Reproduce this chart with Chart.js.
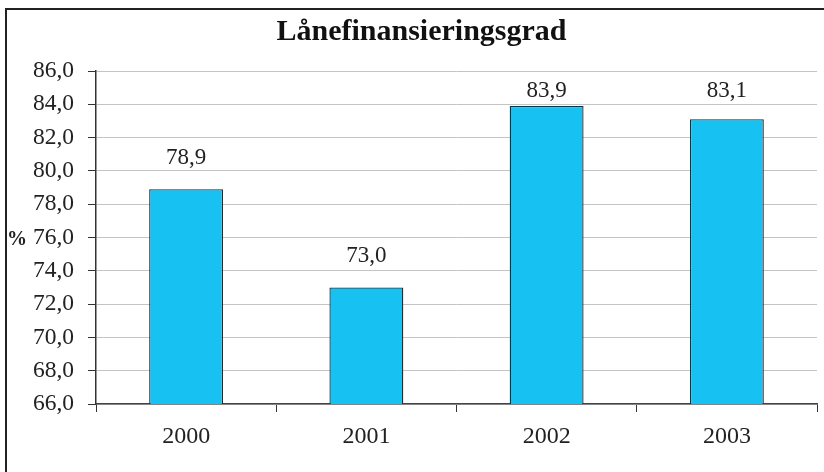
<!DOCTYPE html>
<html>
<head>
<meta charset="utf-8">
<script src="https://cdn.jsdelivr.net/npm/chart.js@4/dist/chart.umd.min.js"></script>
<style>
  html, body { margin: 0; padding: 0; background: #fff; overflow: hidden; }
  #wrap { position: relative; width: 824px; height: 472px; }
  #frame { position: absolute; left: 5px; top: 8px; width: 900px; height: 600px;
           border-left: 2px solid #222; border-top: 2px solid #222; pointer-events: none; }
</style>
</head>
<body>
<div id="wrap">
  <canvas id="c" width="824" height="472"></canvas>
  <div id="frame"></div>
</div>
<script>
const chartTitle = 'Lånefinansieringsgrad';
const categories = ['2000', '2001', '2002', '2003'];
const values = [78.9, 73.0, 83.9, 83.1];
const valueLabels = ['78,9', '73,0', '83,9', '83,1'];
const yMin = 66, yMax = 86, yStep = 2;
const yUnit = '%';

const fmt = v => v.toFixed(1).replace('.', ',');
const SERIF = '"Liberation Serif", "Times New Roman", serif';

const labelPlugin = {
  id: 'labels',
  afterDatasetsDraw(chart) {
    const ctx = chart.ctx;
    const meta = chart.getDatasetMeta(0);
    ctx.save();
    ctx.font = '23px ' + SERIF;
    ctx.fillStyle = '#222';
    ctx.textAlign = 'center';
    ctx.textBaseline = 'middle';
    meta.data.forEach((bar, i) => {
      let y = bar.y - 31;
      y = Math.max(y, chart.chartArea.top + 20);
      ctx.fillText(valueLabels[i], bar.x, y);
    });
    // unit label
    const ys = chart.scales.y;
    ctx.font = 'bold 20px ' + SERIF;
    ctx.fillText(yUnit, 17, ys.getPixelForValue(76) + 2);
    ctx.restore();
  }
};

new Chart(document.getElementById('c'), {
  type: 'bar',
  data: {
    labels: categories,
    datasets: [{
      data: values,
      backgroundColor: '#17C2F2',
      borderColor: '#2a2a2a',
      borderWidth: 1.3,
      barPercentage: 0.41,
      categoryPercentage: 1.0
    }]
  },
  options: {
    responsive: false,
    animation: false,
    devicePixelRatio: 1,
    layout: { padding: { left: 26, right: 7, top: 0, bottom: 0 } },
    plugins: {
      legend: { display: false },
      tooltip: { enabled: false },
      title: {
        display: true,
        text: chartTitle,
        color: '#111',
        font: { family: SERIF, size: 30, weight: 'bold', lineHeight: 1.2 },
        padding: { top: 14, bottom: 21 }
      }
    },
    scales: {
      x: {
        grid: { display: true, drawOnChartArea: false, drawTicks: true, tickLength: 8,
                color: '#333', tickColor: '#333', offset: true },
        border: { display: true, color: '#444', width: 1.5 },
        ticks: { color: '#222', font: { family: SERIF, size: 24 }, padding: 10 },
        afterFit(s) { s.height = 68; }
      },
      y: {
        min: yMin, max: yMax,
        grid: { color: '#C4C4C4', lineWidth: 1, tickColor: '#333', tickLength: 8 },
        border: { display: true, color: '#333', width: 1.5 },
        ticks: { stepSize: yStep, color: '#222', font: { family: SERIF, size: 23.5 }, padding: 14,
                 callback: v => fmt(v) },
        afterFit(s) { s.width = 70; }
      }
    }
  },
  plugins: [labelPlugin]
});
</script>
</body>
</html>
